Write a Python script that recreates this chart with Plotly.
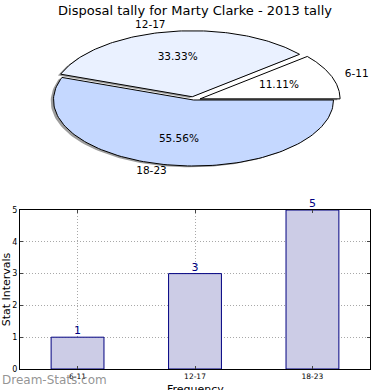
import numpy as np
import plotly.graph_objects as go

title = "Disposal tally for Marty Clarke - 2013 tally"
categories = ["6-11", "12-17", "18-23"]
values = [1, 3, 5]
pie_colors = ["#FFFFFF", "#EAF1FF", "#C5D8FF"]
explode = [0.05, 0.05, 0.0]
bar_color = "#CCCCE6"
bar_edge = "#000080"
x_title = "Frequency"
y_title = "Stat Intervals"
watermark = "Dream-Stats.com"

fig = go.Figure()

total = float(sum(values))
fracs = [v / total for v in values]

# pie drawn on a stretched cartesian axis (elliptical look)
start = 0.0
wedges = []
for cat, f, col, ex in zip(categories, fracs, pie_colors, explode):
    t1 = start
    t2 = start + 360.0 * f
    mid = np.deg2rad((t1 + t2) / 2)
    cx, cy = ex * np.cos(mid), ex * np.sin(mid)
    ts = np.deg2rad(np.linspace(t1, t2, 120))
    xs = np.concatenate([[cx], cx + np.cos(ts), [cx]])
    ys = np.concatenate([[cy], cy + np.sin(ts), [cy]])
    wedges.append((cat, f, col, ex, mid, cx, cy, xs, ys))
    start = t2

for cat, f, col, ex, mid, cx, cy, xs, ys in wedges:
    fig.add_trace(go.Scatter(x=xs - 0.02, y=ys - 0.02, mode="lines", fill="toself",
                             fillcolor="rgba(60,60,60,0.5)", line=dict(width=0),
                             hoverinfo="skip", showlegend=False, xaxis="x", yaxis="y"))
for cat, f, col, ex, mid, cx, cy, xs, ys in wedges:
    fig.add_trace(go.Scatter(x=xs, y=ys, mode="lines", fill="toself",
                             fillcolor=col, line=dict(color="black", width=1),
                             hoverinfo="skip", showlegend=False, xaxis="x", yaxis="y"))

for cat, f, col, ex, mid, cx, cy, xs, ys in wedges:
    lx = (ex + 1.1) * np.cos(mid)
    ly = (ex + 1.1) * np.sin(mid)
    pos = "middle right" if lx >= 0 else "middle left"
    fig.add_trace(go.Scatter(x=[lx], y=[ly], mode="text", text=[cat], textposition=pos,
                             textfont=dict(family="DejaVu Sans", size=10.5, color="black"),
                             hoverinfo="skip", showlegend=False, xaxis="x", yaxis="y"))
    px = (ex + 0.6) * np.cos(mid)
    py = (ex + 0.6) * np.sin(mid)
    fig.add_trace(go.Scatter(x=[px], y=[py], mode="text", text=["%.2f%%" % (f * 100)],
                             textposition="middle center",
                             textfont=dict(family="DejaVu Sans", size=10.5, color="black"),
                             hoverinfo="skip", showlegend=False, xaxis="x", yaxis="y"))

# bar chart
fig.add_trace(go.Bar(x=categories, y=values, width=0.45,
                     marker=dict(color=bar_color, line=dict(color=bar_edge, width=1)),
                     showlegend=False, xaxis="x2", yaxis="y2", hoverinfo="skip"))
fig.add_trace(go.Scatter(x=categories, y=values, mode="text",
                         text=[str(v) for v in values], textposition="top center",
                         textfont=dict(family="DejaVu Sans", size=11, color=bar_edge),
                         cliponaxis=False, showlegend=False, xaxis="x2", yaxis="y2",
                         hoverinfo="skip"))

rx, ry = 140.0, 66.0
cxp, cyp = 193.5, 100.0
grid = dict(showgrid=True, gridcolor="#a8a8a8", griddash="1px,2px", gridwidth=1)
fig.update_layout(
    width=390, height=390,
    margin=dict(l=0, r=0, t=0, b=0),
    paper_bgcolor="white", plot_bgcolor="white",
    font=dict(family="DejaVu Sans", color="black"),
    title=dict(text=title, x=0.5, xanchor="center", y=1 - 10 / 390, yanchor="middle",
               font=dict(family="DejaVu Sans", size=13, color="black"), automargin=False),
    xaxis=dict(domain=[0, 1], range=[-cxp / rx, (390 - cxp) / rx], visible=False,
               fixedrange=True, automargin=False),
    yaxis=dict(domain=[0.5, 1], range=[-(195 - cyp) / ry, cyp / ry], visible=False,
               fixedrange=True, automargin=False),
    xaxis2=dict(domain=[20 / 390, 370 / 390], anchor="y2", range=[-0.49, 2.49],
                showline=True, linecolor="black", linewidth=1, mirror="ticks",
                ticks="inside", ticklen=3, tickcolor="#444", automargin=False,
                layer="above traces", **grid,
                tickfont=dict(family="DejaVu Sans", size=7.5, color="black")),
    yaxis2=dict(domain=[1 - 369 / 390, 1 - 210 / 390], anchor="x2", range=[0, 5],
                dtick=1, showline=True, linecolor="black", linewidth=1, mirror="ticks",
                ticks="inside", ticklen=3, tickcolor="#444", automargin=False,
                zeroline=False, layer="above traces", **grid,
                tickfont=dict(family="DejaVu Sans", size=8, color="black"),
                title=dict(text=y_title, standoff=0, font=dict(family="DejaVu Sans", size=11))),
    annotations=[
        dict(text=watermark, x=0, y=10 / 390, xref="paper", yref="paper",
             xanchor="left", yanchor="middle", showarrow=False,
             font=dict(family="DejaVu Sans", size=12, color="rgba(120,120,120,0.8)")),
        dict(text=x_title, x=195 / 390, y=1 / 390, xref="paper", yref="paper",
             xanchor="center", yanchor="middle", showarrow=False,
             font=dict(family="DejaVu Sans", size=11, color="black")),
    ],
)

fig.write_html("out.html", config={"displayModeBar": False},
               post_script="document.body.style.margin='0';")
